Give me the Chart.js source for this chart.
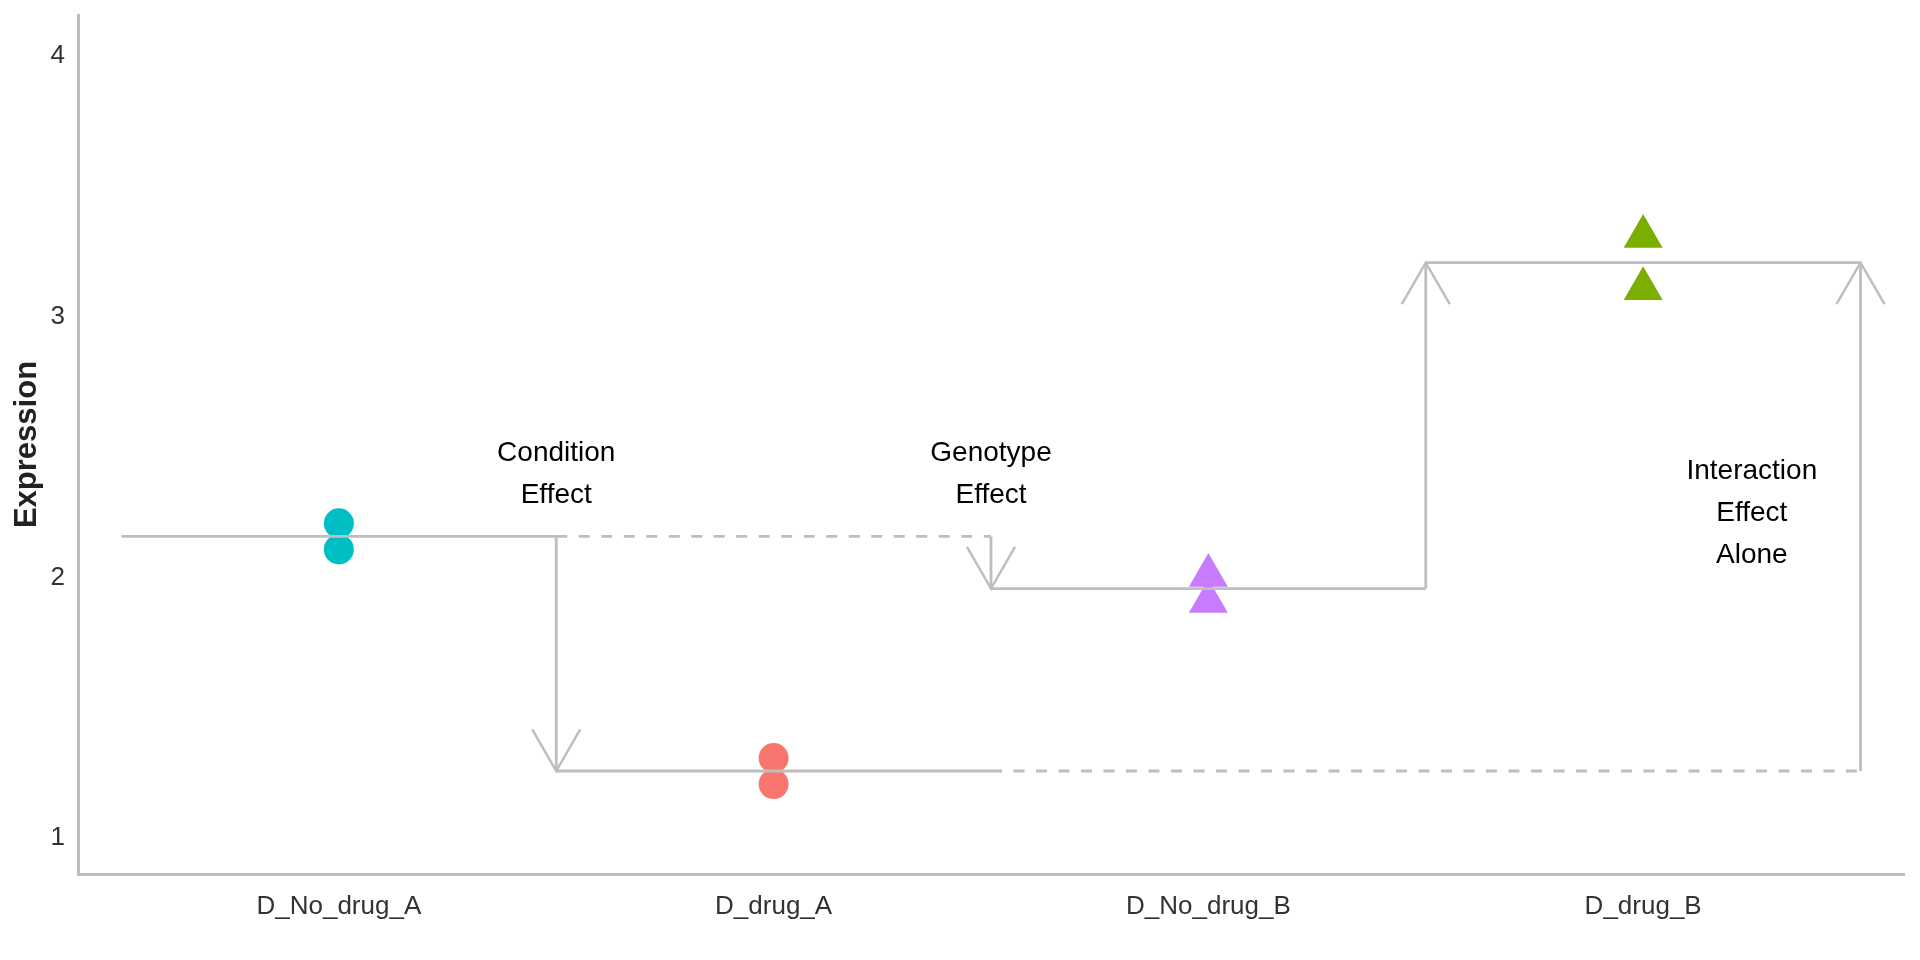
<!DOCTYPE html>
<html>
<head>
<meta charset="utf-8">
<script src="https://cdn.jsdelivr.net/npm/chart.js@4"></script>
<style>
  html, body { margin: 0; padding: 0; background: #fff; }
  #wrap { width: 1920px; height: 960px; }
</style>
</head>
<body>
<div id="wrap"><canvas id="chart"></canvas></div>
<script>
// Groups along the x axis
const categories = ['D_No_drug_A', 'D_drug_A', 'D_No_drug_B', 'D_drug_B'];
// Two replicate expression values per group
const replicates = [[2.2, 2.1], [1.3, 1.2], [2.0, 1.9], [3.3, 3.1]];
// Group means (horizontal reference lines)
const groupMeans = [2.15, 1.25, 1.95, 3.2];
const groupColors = ['#00BFC4', '#F8766D', '#C77CFF', '#7CAE00'];
const groupShapes = ['circle', 'circle', 'triangle', 'triangle'];
const yTicks = [1, 2, 3, 4];

// Effect labels: x position, y (centre of text block), lines
const labelX = [1.5, 2.5, 4.25];
const labelY = [2.39, 2.39, 2.24];
const labelLines = [['Condition', 'Effect'], ['Genotype', 'Effect'], ['Interaction', 'Effect', 'Alone']];

const GREY = '#bebebe';

// Build the segment datasets from the means
const solidSegments = groupMeans.map((m, i) => [{ x: i + 0.5, y: m }, { x: i + 1.5, y: m }]);
const dashedSegments = [
  [{ x: 1.5, y: groupMeans[0] }, { x: 2.5, y: groupMeans[0] }],
  [{ x: 2.5, y: groupMeans[1] }, { x: 4.5, y: groupMeans[1] }]
];
// vertical arrows: from -> to (arrow head at "to")
const arrows = [
  [{ x: 1.5, y: groupMeans[0] }, { x: 1.5, y: groupMeans[1] }],
  [{ x: 2.5, y: groupMeans[0] }, { x: 2.5, y: groupMeans[2] }],
  [{ x: 3.5, y: groupMeans[2] }, { x: 3.5, y: groupMeans[3] }],
  [{ x: 4.5, y: groupMeans[1] }, { x: 4.5, y: groupMeans[3] }]
];

const lineDs = (data, dash) => ({
  type: 'line',
  data: data,
  borderColor: GREY,
  borderWidth: 2.8,
  borderDash: dash || [],
  pointRadius: 0,
  fill: false,
  order: 0
});

const datasets = [];
replicates.forEach((vals, i) => {
  datasets.push({
    type: 'scatter',
    data: vals.map(v => ({ x: i + 1, y: v })),
    pointStyle: groupShapes[i],
    pointRadius: groupShapes[i] === 'circle' ? 15 : 22.5,
    pointBackgroundColor: groupColors[i],
    pointBorderWidth: 0,
    order: 1
  });
});
solidSegments.forEach(s => datasets.push(lineDs(s)));
dashedSegments.forEach(s => datasets.push(lineDs(s, [11, 11.5])));
arrows.forEach(s => datasets.push(lineDs(s)));

// Arrow heads and effect labels
const annotations = {
  id: 'annotations',
  afterDatasetsDraw(chart) {
    const { ctx, scales: { x, y } } = chart;
    ctx.save();
    ctx.strokeStyle = GREY;
    ctx.lineWidth = 2.5;
    arrows.forEach(([from, to]) => {
      const tx = x.getPixelForValue(to.x);
      const ty = y.getPixelForValue(to.y);
      const dir = to.y < from.y ? -1 : 1; // -1: pointing down on screen
      const len = 48, ang = Math.PI / 6;
      ctx.beginPath();
      ctx.moveTo(tx - Math.sin(ang) * len, ty + dir * Math.cos(ang) * len);
      ctx.lineTo(tx, ty);
      ctx.lineTo(tx + Math.sin(ang) * len, ty + dir * Math.cos(ang) * len);
      ctx.stroke();
    });

    ctx.fillStyle = '#000';
    ctx.font = '28px "Liberation Sans", Arial, sans-serif';
    ctx.textAlign = 'center';
    ctx.textBaseline = 'middle';
    const lh = 42;
    labelLines.forEach((lines, i) => {
      const cx = x.getPixelForValue(labelX[i]);
      const cy = y.getPixelForValue(labelY[i]);
      const start = cy - (lines.length - 1) * lh / 2;
      lines.forEach((t, j) => ctx.fillText(t, cx, start + j * lh));
    });
    ctx.restore();
  }
};

new Chart(document.getElementById('chart'), {
  data: { datasets },
  options: {
    responsive: true,
    maintainAspectRatio: false,
    animation: false,
    layout: { autoPadding: false, padding: { top: 15, right: 16, left: 0, bottom: 0 } },
    plugins: { legend: { display: false }, tooltip: { enabled: false } },
    scales: {
      x: {
        type: 'linear',
        min: 0.4,
        max: 4.6,
        grid: { display: false, drawTicks: false },
        border: { display: true, color: GREY, width: 3 },
        afterBuildTicks: s => { s.ticks = categories.map((c, i) => ({ value: i + 1 })); },
        afterFit: s => { s.height = 86; s.paddingLeft = 0; s.paddingRight = 0; },
        ticks: {
          autoSkip: false,
          maxRotation: 0,
          padding: 17,
          color: '#333',
          font: { family: '"Liberation Sans", Arial, sans-serif', size: 26 },
          callback: v => categories[v - 1]
        }
      },
      y: {
        type: 'linear',
        min: 0.855,
        max: 4.15,
        grid: { display: false, drawTicks: false },
        border: { display: true, color: GREY, width: 3 },
        afterBuildTicks: s => { s.ticks = yTicks.map(v => ({ value: v })); },
        afterFit: s => { s.width = 78; s.paddingTop = 0; s.paddingBottom = 0; },
        ticks: {
          padding: 13,
          labelOffset: 2,
          color: '#333',
          font: { family: '"Liberation Sans", Arial, sans-serif', size: 26 }
        },
        title: {
          display: true,
          text: 'Expression',
          color: '#222',
          padding: { top: 9, bottom: 0 },
          font: { family: '"Liberation Sans", Arial, sans-serif', size: 31, weight: 'bold' }
        }
      }
    }
  },
  plugins: [annotations]
});
</script>
</body>
</html>
